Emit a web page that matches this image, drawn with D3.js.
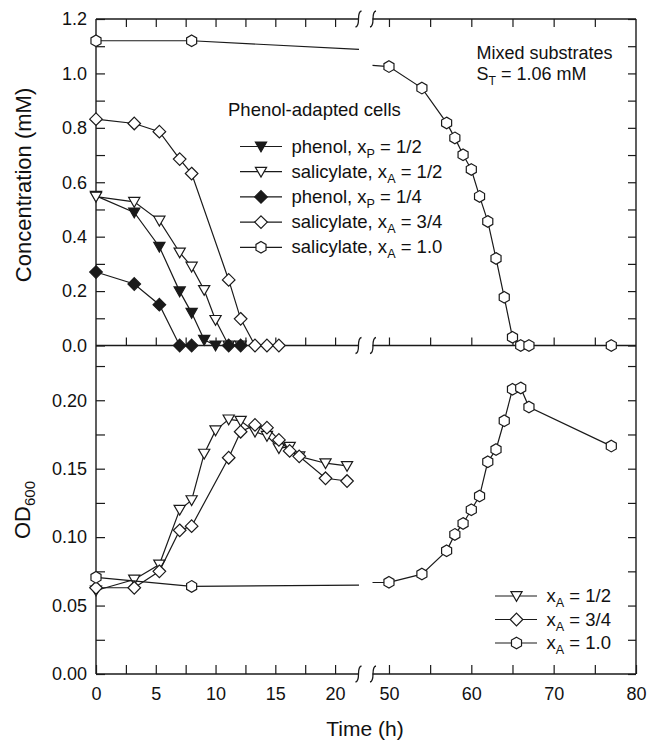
<!DOCTYPE html>
<html><head><meta charset="utf-8">
<script src="https://cdn.jsdelivr.net/npm/d3@7"></script>
<style>
body{margin:0;background:#fff}
svg{display:block}
text{font-family:"Liberation Sans",Arial,Helvetica,sans-serif;fill:#111}
</style>
</head><body>
<svg id="chart" width="648" height="742"></svg>
<script>
// ---------- data (time in h, concentration in mM, OD600) ----------
// Top panel: concentration
const phenolHalfT   = [0, 3.2, 5.3, 7, 8, 9.05, 10];
const phenolHalfC   = [0.55, 0.489, 0.363, 0.199, 0.12, 0.021, 0];
const salHalfT      = [0, 3.2, 5.3, 7, 8, 9.05, 10, 11.1, 12.1];
const salHalfC      = [0.547, 0.528, 0.459, 0.342, 0.29, 0.204, 0.094, 0, 0];
const phenolQuarterT= [0, 3.2, 5.3, 7, 8, 11.1, 12.1];
const phenolQuarterC= [0.27, 0.226, 0.15, 0, 0, 0, 0];
const salThreeQT    = [0, 3.2, 5.3, 7, 8, 11.1, 12.1, 13.3, 14.3, 15.3];
const salThreeQC    = [0.832, 0.816, 0.786, 0.685, 0.632, 0.241, 0.098, 0, 0, 0];
const salOneT       = [0, 8, 50, 54, 57, 58, 59, 60, 61, 62, 63, 64, 65, 66, 67, 77];
const salOneC       = [1.12, 1.12, 1.025, 0.946, 0.818, 0.763, 0.701, 0.647, 0.548, 0.456, 0.32, 0.177, 0.03, 0, 0, 0];
// Bottom panel: OD600
const odHalfT       = [0, 3.2, 5.3, 7, 8, 9.05, 10, 11.1, 12.1, 13.3, 14.3, 15.3, 16.2, 17, 19.2, 21];
const odHalfV       = [0.061, 0.069, 0.08, 0.12, 0.127, 0.161, 0.178, 0.186, 0.185, 0.177, 0.174, 0.165, 0.166, 0.159, 0.154, 0.152];
const odThreeQT     = [0, 3.2, 5.3, 7, 8, 11.1, 12.1, 13.3, 14.3, 15.3, 16.2, 17, 19.2, 21];
const odThreeQV     = [0.063, 0.063, 0.075, 0.105, 0.108, 0.158, 0.177, 0.182, 0.18, 0.171, 0.163, 0.159, 0.143, 0.141];
const odOneT        = [0, 8, 50, 54, 57, 58, 59, 60, 61, 62, 63, 64, 65, 66, 67, 77];
const odOneV        = [0.0706, 0.064, 0.067, 0.073, 0.09, 0.102, 0.11, 0.12, 0.13, 0.155, 0.164, 0.185, 0.208, 0.209, 0.195, 0.1665];
// ticks / labels
const xTicksLeft   = [0, 2.5, 5, 7.5, 10, 12.5, 15, 17.5, 20];
const xLabelsLeft  = [0, 5, 10, 15, 20];
const xTicksRight  = [50, 55, 60, 65, 70, 75, 80];
const xLabelsRight = [50, 60, 70, 80];
const concTicks    = d3.range(0, 13).map(i => i / 10);
const odTicks      = d3.range(0, 10).map(i => i * 0.025);
const topLegend = [
  {label:["phenol, x","P"," = 1/2"], shape:"tri", filled:true},
  {label:["salicylate, x","A"," = 1/2"], shape:"tri", filled:false},
  {label:["phenol, x","P"," = 1/4"], shape:"dia", filled:true},
  {label:["salicylate, x","A"," = 3/4"], shape:"dia", filled:false},
  {label:["salicylate, x","A"," = 1.0"], shape:"hex", filled:false}
];
const bottomLegend = [
  {label:["x","A"," = 1/2"], shape:"tri", filled:false},
  {label:["x","A"," = 3/4"], shape:"dia", filled:false},
  {label:["x","A"," = 1.0"], shape:"hex", filled:false}
];

// ---------- layout ----------
const svg = d3.select("#chart");
const INK = "#1a1a1a";
const BREAK_L = 22, BREAK_R = 48;
const xL = d3.scaleLinear().domain([0, BREAK_L]).range([96, 359]);
const xR = d3.scaleLinear().domain([BREAK_R, 80]).range([372.5, 636]);
const X = t => t <= BREAK_L ? xL(t) : xR(t);
const yTop = d3.scaleLinear().domain([0, 1.2]).range([345.5, 19]);
const yBot = d3.scaleLinear().domain([0, 0.24]).range([674, 345.5]);
const LEFT = 96, RIGHT = 636, TOPY = 19, MIDY = 345.5, BOTY = 674;

// ---------- axes ----------
function strip(g){ g.select(".domain").remove(); g.selectAll("line").attr("stroke", INK).attr("stroke-width",1.2); g.selectAll("text").attr("font-size",18).attr("font-family",null).attr("fill","#111"); }

svg.append("g").attr("transform",`translate(${LEFT},0)`)
  .call(d3.axisLeft(yTop).tickValues(concTicks).tickSize(-9).tickPadding(9)
    .tickFormat(v => Math.round(v*10)%2===0 ? d3.format(".1f")(v) : ""))
  .call(strip);
svg.append("g").attr("transform",`translate(${LEFT},0)`)
  .call(d3.axisLeft(yBot).tickValues(odTicks).tickSize(-9).tickPadding(9)
    .tickFormat(v => Math.round(v*1000)%50===0 ? d3.format(".2f")(v) : ""))
  .call(strip);
svg.append("g").attr("transform",`translate(${RIGHT},0)`)
  .call(d3.axisRight(yTop).tickValues(concTicks).tickSize(-8).tickFormat(""))
  .call(strip);
svg.append("g").attr("transform",`translate(${RIGHT},0)`)
  .call(d3.axisRight(yBot).tickValues(odTicks).tickSize(-8).tickFormat(""))
  .call(strip);
[[xL,xTicksLeft.filter(d=>d>0)],[xR,xTicksRight.filter(d=>d<80)]].forEach(([sc,tv])=>{
  svg.append("g").attr("transform",`translate(0,${TOPY})`)
    .call(d3.axisTop(sc).tickValues(tv).tickSize(-8).tickFormat("")).call(strip);
  svg.append("g").attr("transform",`translate(0,${MIDY})`)
    .call(d3.axisBottom(sc).tickValues(tv).tickSize(-8).tickFormat("")).call(strip);
});
svg.append("g").attr("transform",`translate(0,${BOTY})`)
  .call(d3.axisBottom(xL).tickValues(xTicksLeft).tickSize(-9).tickPadding(13)
    .tickFormat(v => xLabelsLeft.includes(v) ? v : ""))
  .call(strip);
svg.append("g").attr("transform",`translate(0,${BOTY})`)
  .call(d3.axisBottom(xR).tickValues(xTicksRight).tickSize(-9).tickPadding(13)
    .tickFormat(v => xLabelsRight.includes(v) ? v : ""))
  .call(strip);

// frame
const frame = svg.append("g").attr("stroke", INK).attr("stroke-width",1.4).attr("fill","none");
frame.append("line").attr("x1",LEFT).attr("x2",LEFT).attr("y1",TOPY).attr("y2",BOTY);
frame.append("line").attr("x1",RIGHT).attr("x2",RIGHT).attr("y1",TOPY).attr("y2",BOTY);
[TOPY, MIDY, BOTY].forEach(y=>{
  frame.append("line").attr("x1",LEFT).attr("x2",xL(BREAK_L)).attr("y1",y).attr("y2",y);
  frame.append("line").attr("x1",xR(BREAK_R)).attr("x2",RIGHT).attr("y1",y).attr("y2",y);
  [xL(BREAK_L)-0.5, xR(BREAK_R)+0.5].forEach(bx=>{
    frame.append("path").attr("stroke-width",1.3)
      .attr("d",`M${bx+3},${y-8} C${bx-3},${y-7} ${bx+3},${y+7} ${bx-3},${y+8}`);
  });
});

// ---------- series ----------
function segments(ts, vs){
  const segs=[]; let cur=[[ts[0],vs[0]]];
  for(let i=1;i<ts.length;i++){
    const a=[ts[i-1],vs[i-1]], b=[ts[i],vs[i]];
    if(a[0]<=BREAK_L && b[0]>=BREAK_R){
      const f=t=>a[1]+(b[1]-a[1])*(t-a[0])/(b[0]-a[0]);
      cur.push([BREAK_L,f(BREAK_L)]); segs.push(cur);
      cur=[[BREAK_R,f(BREAK_R)],b];
    } else cur.push(b);
  }
  segs.push(cur); return segs;
}
function shapePath(shape){
  if(shape==="hex"){
    const r=5.8; return d3.range(6).map(k=>{const a=(-90+60*k)*Math.PI/180;return [r*Math.cos(a),r*Math.sin(a)];});
  }
  if(shape==="dia"){ const r=6.3; return [[0,-r],[r,0],[0,r],[-r,0]]; }
  return [[-5.6,-4.4],[5.6,-4.4],[0,5.4]];
}
function marker(g, shape, filled, cx, cy){
  g.append("path")
    .attr("d", d3.line()(shapePath(shape).map(p=>[p[0]+cx,p[1]+cy])) + "Z")
    .attr("fill", filled ? INK : "#fff").attr("stroke", INK).attr("stroke-width",1.2);
}
function series(ts, vs, yScale, shape, filled){
  const g = svg.append("g");
  const line = d3.line().x(d=>X(d[0])).y(d=>yScale(d[1]));
  segments(ts,vs).forEach(s=>g.append("path").attr("d",line(s)).attr("fill","none").attr("stroke",INK).attr("stroke-width",1.2));
  ts.forEach((t,i)=>marker(g, shape, filled, X(t), yScale(vs[i])));
}
series(phenolHalfT, phenolHalfC, yTop, "tri", true);
series(salHalfT, salHalfC, yTop, "tri", false);
series(phenolQuarterT, phenolQuarterC, yTop, "dia", true);
series(salThreeQT, salThreeQC, yTop, "dia", false);
series(salOneT, salOneC, yTop, "hex", false);
series(odHalfT, odHalfV, yBot, "tri", false);
series(odThreeQT, odThreeQV, yBot, "dia", false);
series(odOneT, odOneV, yBot, "hex", false);

// ---------- legends / annotations ----------
function subText(g, x, y, parts, size){
  const t = g.append("text").attr("x",x).attr("y",y).attr("font-size",size);
  t.append("tspan").text(parts[0]);
  t.append("tspan").attr("font-size",size*0.68).attr("dy",5).text(parts[1]);
  t.append("tspan").attr("dy",-5).text(parts[2]);
  return t;
}
const lg = svg.append("g");
lg.append("text").attr("x",228).attr("y",116).attr("font-size",18.5).text("Phenol-adapted cells");
topLegend.forEach((d,i)=>{
  const y = 146.5 + i*25.2;
  lg.append("line").attr("x1",240).attr("x2",282).attr("y1",y).attr("y2",y).attr("stroke",INK).attr("stroke-width",1.2);
  marker(lg, d.shape, d.filled, 261, y);
  subText(lg, 291.5, y+6, d.label, 18.5);
});
const bl = svg.append("g");
bottomLegend.forEach((d,i)=>{
  const y = 596 + i*23.5;
  bl.append("line").attr("x1",495).attr("x2",537).attr("y1",y).attr("y2",y).attr("stroke",INK).attr("stroke-width",1.2);
  marker(bl, d.shape, d.filled, 516.5, y);
  subText(bl, 546.5, y+6, d.label, 18.5);
});
svg.append("text").attr("x",476.5).attr("y",58.5).attr("font-size",18).text("Mixed substrates");
subText(svg, 476.5, 80, ["S","T"," = 1.06 mM"], 18);

svg.append("text").attr("transform","translate(30.5,185) rotate(-90)").attr("text-anchor","middle")
  .attr("font-size",22).text("Concentration (mM)");
const od = svg.append("text").attr("transform","translate(30,510) rotate(-90)").attr("text-anchor","middle").attr("font-size",22);
od.append("tspan").text("OD");
od.append("tspan").attr("font-size",15).attr("dy",5).text("600");
svg.append("text").attr("x",365).attr("y",736).attr("text-anchor","middle").attr("font-size",21).text("Time (h)");
</script>
</body></html>
